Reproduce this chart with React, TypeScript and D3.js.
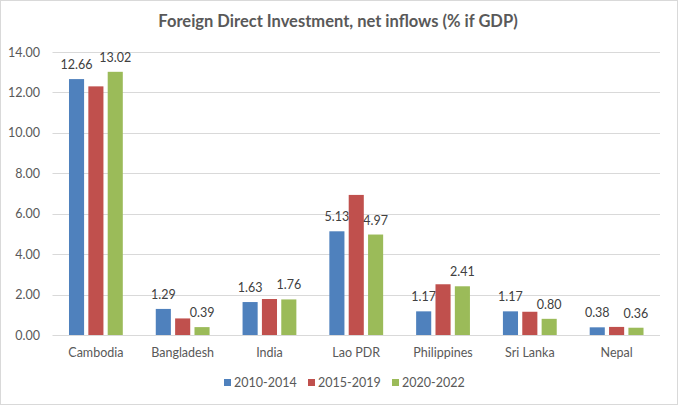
import { useEffect, useRef } from 'react';
import * as d3 from 'd3';

const categories = ['Cambodia', 'Bangladesh', 'India', 'Lao PDR', 'Philippines', 'Sri Lanka', 'Nepal'];
const seriesNames = ['2010-2014', '2015-2019', '2020-2022'];
const values2010 = [12.66, 1.29, 1.63, 5.13, 1.17, 1.17, 0.38];
const values2015 = [12.3, 0.82, 1.78, 6.93, 2.51, 1.15, 0.4];
const values2020 = [13.02, 0.39, 1.76, 4.97, 2.41, 0.8, 0.36];
const labelled = [true, false, true];
const colors = ['#4F81BD', '#C0504D', '#9BBB59'];
const yTicks = [0, 2, 4, 6, 8, 10, 12, 14];

export default function App() {
  const svgRef = useRef<SVGSVGElement>(null);

  useEffect(() => {
    document.body.style.margin = '0';
    if (!svgRef.current) return;
    const svg = d3.select(svgRef.current);
    svg.selectAll('*').remove();

    const W = 680;
    const H = 407;
    const font = 'Lato, "Noto Sans", sans-serif';
    const series = [values2010, values2015, values2020];

    svg.attr('width', W).attr('height', H).style('display', 'block');

    svg
      .append('rect')
      .attr('x', 0.5)
      .attr('y', 0.5)
      .attr('width', W - 3)
      .attr('height', H - 3)
      .attr('fill', '#fff')
      .attr('stroke', '#d9d9d9');

    // Title
    svg
      .append('text')
      .attr('x', 338)
      .attr('y', 27)
      .attr('text-anchor', 'middle')
      .attr('font-family', font)
      .attr('font-weight', 'bold')
      .attr('font-size', '16.5px')
      .attr('fill', '#595959')
      .text('Foreign Direct Investment, net inflows (% if GDP)');

    const left = 52.5;
    const right = 660;
    const y = d3.scaleLinear().domain([0, 14]).range([335, 52]);

    const x0 = d3.scaleBand<string>().domain(categories).range([left, right]).paddingInner(0).paddingOuter(0);
    const x1 = d3
      .scaleBand<string>()
      .domain(seriesNames)
      .range([x0.bandwidth() * 0.19, x0.bandwidth() * 0.81])
      .paddingInner(0.22)
      .paddingOuter(0);

    // Grid
    svg
      .append('g')
      .selectAll('line')
      .data(yTicks)
      .enter()
      .append('line')
      .attr('x1', left)
      .attr('x2', right)
      .attr('y1', (d) => Math.round(y(d)) + 0.5)
      .attr('y2', (d) => Math.round(y(d)) + 0.5)
      .attr('stroke', '#d9d9d9')
      .attr('stroke-width', 1);

    // Y labels
    svg
      .append('g')
      .selectAll('text')
      .data(yTicks)
      .enter()
      .append('text')
      .attr('x', 40)
      .attr('y', (d) => y(d) + 4.5)
      .attr('text-anchor', 'end')
      .attr('font-family', font)
      .attr('font-size', '12.5px')
      .attr('fill', '#595959')
      .text((d) => d3.format('.2f')(d));

    // Bars
    const groups = svg
      .append('g')
      .selectAll('g')
      .data(categories)
      .enter()
      .append('g')
      .attr('transform', (d) => `translate(${x0(d)},0)`);

    seriesNames.forEach((name, si) => {
      groups
        .append('rect')
        .attr('x', () => x1(name) || 0)
        .attr('y', (_d, i) => y(series[si][i]))
        .attr('width', x1.bandwidth())
        .attr('height', (_d, i) => y(0) - y(series[si][i]))
        .attr('fill', colors[si]);

      if (labelled[si]) {
        groups
          .append('text')
          .attr('x', () => (x1(name) || 0) + x1.bandwidth() / 2)
          .attr('y', (_d, i) => y(series[si][i]) - 10)
          .attr('text-anchor', 'middle')
          .attr('font-family', font)
          .attr('font-size', '12.5px')
          .attr('fill', '#404040')
          .text((_d, i) => d3.format('.2f')(series[si][i]));
      }
    });

    // Category labels
    svg
      .append('g')
      .selectAll('text')
      .data(categories)
      .enter()
      .append('text')
      .attr('x', (d) => (x0(d) || 0) + x0.bandwidth() / 2)
      .attr('y', 357)
      .attr('text-anchor', 'middle')
      .attr('font-family', font)
      .attr('font-size', '12.5px')
      .attr('fill', '#595959')
      .text((d) => d);

    // Legend
    const legendX = [224, 308, 392];
    const legend = svg.append('g');
    seriesNames.forEach((name, i) => {
      legend
        .append('rect')
        .attr('x', legendX[i])
        .attr('y', 379)
        .attr('width', 7)
        .attr('height', 7)
        .attr('fill', colors[i]);
      legend
        .append('text')
        .attr('x', legendX[i] + 10)
        .attr('y', 387)
        .attr('font-family', font)
        .attr('font-size', '12.5px')
        .attr('fill', '#595959')
        .text(name);
    });
  }, []);

  return <svg ref={svgRef} />;
}
